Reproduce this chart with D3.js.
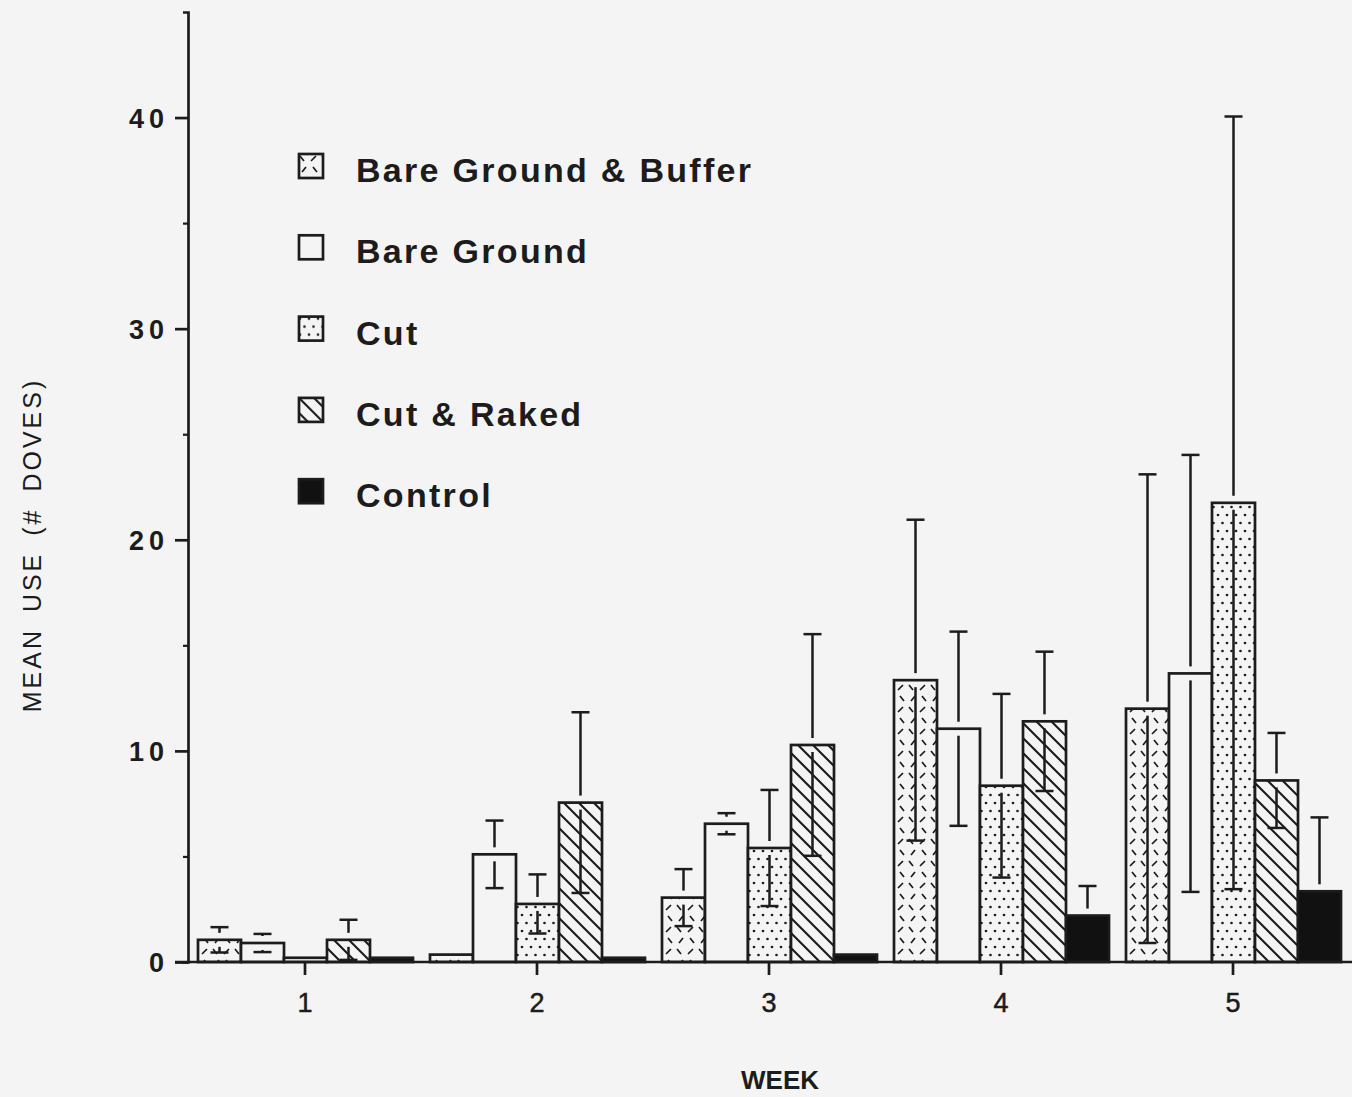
<!DOCTYPE html>
<html>
<head>
<meta charset="utf-8">
<script src="https://cdn.jsdelivr.net/npm/d3@7"></script>
<style>
  html, body { margin: 0; padding: 0; background: #f4f4f4; }
  svg { display: block; }
</style>
</head>
<body>
<svg id="chart" width="1352" height="1097"></svg>
<script>
// ---- data ----
const weeks = ["1", "2", "3", "4", "5"];
const seriesNames = ["Bare Ground & Buffer", "Bare Ground", "Cut", "Cut & Raked", "Control"];
const bareGroundBuffer    = [1.05, 0.35, 3.05, 13.35, 12.0];
const bareGroundBufferErr = [0.6, 0, 1.35, 7.6, 11.1];
const bareGround          = [0.9, 5.1, 6.55, 11.05, 13.67];
const bareGroundErr       = [0.43, 1.6, 0.5, 4.6, 10.35];
const cut                 = [0.2, 2.75, 5.4, 8.35, 21.75];
const cutErr              = [0, 1.4, 2.75, 4.35, 18.3];
const cutRaked            = [1.05, 7.55, 10.28, 11.4, 8.6];
const cutRakedErr         = [0.95, 4.28, 5.25, 3.3, 2.25];
const control             = [0.2, 0.2, 0.35, 2.2, 3.35];
const controlErr          = [0, 0, 0, 1.4, 3.5];
const yMajorTicks = [0, 10, 20, 30, 40];
const yMinorTicks = [5, 15, 25, 35];
const yTitle = "MEAN USE (# DOVES)";
const xTitle = "WEEK";

const values = [bareGroundBuffer, bareGround, cut, cutRaked, control];
const errors = [bareGroundBufferErr, bareGroundErr, cutErr, cutRakedErr, controlErr];
const fills = ["url(#pBGB)", "#f4f4f4", "url(#pCut)", "url(#pCR)", "#111"];

const ink = "#1c1c1c";
const bg = "#f4f4f4";
const font = "Liberation Sans, Arial, Helvetica, sans-serif";

const svg = d3.select("#chart");

// ---- patterns ----
const defs = svg.append("defs");
const p1 = defs.append("pattern").attr("id", "pBGB").attr("patternUnits", "userSpaceOnUse")
  .attr("width", 22).attr("height", 22);
p1.append("rect").attr("width", 22).attr("height", 22).attr("fill", bg);
p1.append("path").attr("d", "M2,3 L6,8 M13,8 L18,3 M4,19 L8,14 M15,14 L19,19")
  .attr("stroke", ink).attr("stroke-width", 1.7).attr("fill", "none");
const p2 = defs.append("pattern").attr("id", "pCut").attr("patternUnits", "userSpaceOnUse")
  .attr("width", 9).attr("height", 16);
p2.append("rect").attr("width", 9).attr("height", 16).attr("fill", bg);
p2.append("circle").attr("cx", 2).attr("cy", 3).attr("r", 1.35).attr("fill", ink);
p2.append("circle").attr("cx", 6.5).attr("cy", 11).attr("r", 1.35).attr("fill", ink);
const p3 = defs.append("pattern").attr("id", "pCR").attr("patternUnits", "userSpaceOnUse")
  .attr("width", 15).attr("height", 15);
p3.append("rect").attr("width", 15).attr("height", 15).attr("fill", bg);
p3.append("path").attr("d", "M0,0 L15,15 M-5,10 L5,20 M10,-5 L20,5")
  .attr("stroke", ink).attr("stroke-width", 2.1).attr("fill", "none");

// ---- scales ----
const x0 = d3.scaleBand().domain(weeks).range([189, 1349]).paddingInner(0).paddingOuter(0);
const x1 = d3.scaleBand().domain(seriesNames).range([9, 224]).padding(0);
const y = d3.scaleLinear().domain([0, 45]).range([962, 12]);

const SW = 2.7;

// ---- y axis ----
const yAxis = svg.append("g").attr("transform", "translate(188,0)")
  .call(d3.axisLeft(y).tickValues(yMajorTicks).tickSize(13).tickSizeOuter(5));
yAxis.select(".domain").attr("stroke", ink).attr("stroke-width", SW);
yAxis.selectAll(".tick line").attr("stroke", ink).attr("stroke-width", SW);
yAxis.selectAll(".tick text")
  .attr("fill", ink).attr("font-family", font)
  .attr("font-weight", "bold").attr("font-size", 27).attr("letter-spacing", 5)
  .attr("x", -19).attr("dy", "0.36em");
const yMinor = svg.append("g").attr("transform", "translate(188,0)")
  .call(d3.axisLeft(y).tickValues(yMinorTicks).tickSize(5).tickFormat(""));
yMinor.select(".domain").remove();
yMinor.selectAll(".tick line").attr("stroke", ink).attr("stroke-width", 2.2);

// ---- bars ----
const groups = svg.append("g").selectAll("g").data(weeks).join("g")
  .attr("transform", d => `translate(${x0(d)},0)`);

groups.each(function(w, wi) {
  const g = d3.select(this);
  const data = seriesNames.map((s, si) => ({ series: s, si, value: values[si][wi], err: errors[si][wi] }));
  g.selectAll("rect.bar").data(data).join("rect").attr("class", "bar")
    .attr("x", d => x1(d.series))
    .attr("y", d => y(d.value))
    .attr("width", x1.bandwidth())
    .attr("height", d => y(0) - y(d.value))
    .attr("fill", d => fills[d.si])
    .attr("stroke", ink).attr("stroke-width", SW);

  const gap = 7, cap = 9;
  data.filter(d => d.err > 0).forEach(d => {
    const cx = x1(d.series) + x1.bandwidth() / 2;
    const top = y(d.value + d.err), bot = y(Math.max(d.value - d.err, 0)), mid = y(d.value);
    g.append("line").attr("x1", cx).attr("x2", cx).attr("y1", top).attr("y2", Math.max(top, mid - gap))
      .attr("stroke", ink).attr("stroke-width", 2.5);
    g.append("line").attr("x1", cx - cap).attr("x2", cx + cap).attr("y1", top).attr("y2", top)
      .attr("stroke", ink).attr("stroke-width", 2.5);
    if (d.si !== 4) {
      g.append("line").attr("x1", cx).attr("x2", cx).attr("y1", Math.min(bot, mid + gap)).attr("y2", bot)
        .attr("stroke", ink).attr("stroke-width", 2.5);
      g.append("line").attr("x1", cx - cap).attr("x2", cx + cap).attr("y1", bot).attr("y2", bot)
        .attr("stroke", ink).attr("stroke-width", 2.5);
    }
  });
});

// ---- x axis ----
svg.append("line").attr("x1", 175).attr("x2", 1352).attr("y1", y(0)).attr("y2", y(0))
  .attr("stroke", ink).attr("stroke-width", SW);
const xAxis = svg.append("g").attr("transform", `translate(0,${y(0)})`)
  .call(d3.axisBottom(x0).tickSize(13).tickSizeOuter(0).tickPadding(18));
xAxis.select(".domain").remove();
xAxis.selectAll(".tick line").attr("stroke", ink).attr("stroke-width", SW);
xAxis.selectAll(".tick text")
  .attr("fill", ink).attr("font-family", font)
  .attr("font-size", 27).attr("stroke", ink).attr("stroke-width", 0.5);

// ---- titles ----
svg.append("text").attr("transform", "translate(41,545) rotate(-90)")
  .attr("text-anchor", "middle").attr("fill", ink)
  .attr("font-family", font).attr("font-size", 25)
  .attr("letter-spacing", 3).attr("word-spacing", 6)
  .text(yTitle);
svg.append("text").attr("x", 780).attr("y", 1089).attr("text-anchor", "middle").attr("fill", ink)
  .attr("font-family", font).attr("font-size", 26).attr("font-weight", "bold")
  .text(xTitle);

// ---- legend ----
const legend = svg.append("g").attr("transform", "translate(298,153)");
const li = legend.selectAll("g").data(seriesNames).join("g")
  .attr("transform", (d, i) => `translate(0,${i * 81.3})`);
li.append("rect").attr("x", 1).attr("y", 1).attr("width", 24).attr("height", 24)
  .attr("fill", (d, i) => fills[i]).attr("stroke", ink).attr("stroke-width", SW);
li.append("text").attr("x", 58).attr("y", 29)
  .attr("fill", ink).attr("font-family", font)
  .attr("font-weight", "bold").attr("font-size", 34).attr("letter-spacing", 2.3)
  .text(d => d);
</script>
</body>
</html>
